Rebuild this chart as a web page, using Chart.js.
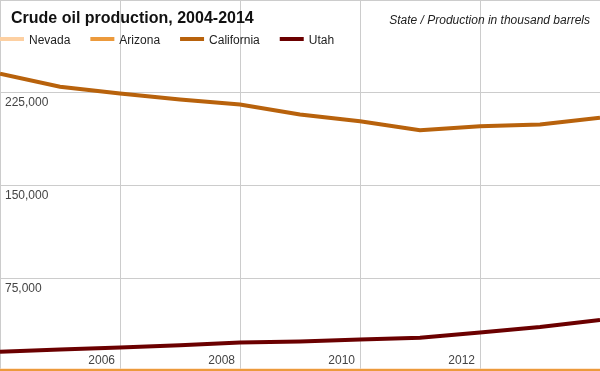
<!DOCTYPE html>
<html>
<head>
<meta charset="utf-8">
<script src="https://cdn.jsdelivr.net/npm/chart.js@4/dist/chart.umd.min.js"></script>
<style>
html,body{margin:0;padding:0;background:#fff;}
#wrap{width:600px;height:371px;}
</style>
</head>
<body>
<div id="wrap"><canvas id="c" width="600" height="371"></canvas></div>
<script>
const years = [2004,2005,2006,2007,2008,2009,2010,2011,2012,2013,2014];
const nevada = [420,400,380,410,420,430,440,420,360,330,320];
const arizona = [60,50,45,40,40,45,50,40,30,25,20];
const california = [240400,229900,224400,219600,215500,207400,202000,194700,197900,199300,204700];
const utah = [15500,17300,19050,20900,23100,23800,25500,26800,31200,35500,41200];
const seriesNames = ['Nevada','Arizona','California','Utah'];
const seriesColors = ['#fdd0a2','#ec9a3c','#b8620c','#6b0000'];
const xTickLabels = [2006,2008,2010,2012];
const yTickLabels = [75000,150000,225000];
const titleText = 'Crude oil production, 2004-2014';
const subtitleText = 'State / Production in thousand barrels';

const seriesData = [nevada, arizona, california, utah];

const overlay = {
  id: 'overlay',
  afterDraw(chart) {
    const ctx = chart.ctx;
    const xs = chart.scales.x, ys = chart.scales.y;
    ctx.save();
    // y tick labels
    ctx.font = '12px "Liberation Sans", Arial, sans-serif';
    ctx.fillStyle = '#444';
    ctx.textAlign = 'left';
    ctx.textBaseline = 'alphabetic';
    yTickLabels.forEach(v => {
      const y = ys.getPixelForValue(v);
      ctx.fillText(v.toLocaleString('en-US'), 5, y + 13.5);
    });
    // x tick labels
    ctx.textAlign = 'right';
    xTickLabels.forEach(v => {
      const x = xs.getPixelForValue(v);
      ctx.fillText(String(v), x - 5, chart.chartArea.bottom - 7);
    });
    // title
    ctx.textAlign = 'left';
    ctx.fillStyle = '#111';
    ctx.font = 'bold 16px "Liberation Sans", Arial, sans-serif';
    ctx.fillText(titleText, 11, 23);
    // subtitle
    ctx.textAlign = 'right';
    ctx.fillStyle = '#222';
    ctx.font = 'italic 12px "Liberation Sans", Arial, sans-serif';
    ctx.fillText(subtitleText, 590, 23.5);
    // legend
    ctx.textAlign = 'left';
    ctx.font = '12px "Liberation Sans", Arial, sans-serif';
    let lx = 0;
    chart.data.datasets.forEach(ds => {
      ctx.fillStyle = ds.borderColor;
      ctx.fillRect(lx, 37, 24, 4);
      ctx.fillStyle = '#222';
      ctx.fillText(ds.label, lx + 29, 43.5);
      lx += 29 + ctx.measureText(ds.label).width + 20;
    });
    ctx.restore();
  }
};

new Chart(document.getElementById('c'), {
  type: 'line',
  data: {
    datasets: seriesNames.map((name, i) => ({
      label: name,
      data: years.map((y, j) => ({x: y, y: seriesData[i][j]})),
      borderColor: seriesColors[i],
      backgroundColor: seriesColors[i],
      borderWidth: 4,
      pointRadius: 0,
      tension: 0,
      fill: false,
      order: i === 0 ? 1 : 0
    }))
  },
  options: {
    responsive: false,
    animation: false,
    layout: {padding: 0},
    plugins: {legend: {display: false}, title: {display: false}, tooltip: {enabled: false}},
    scales: {
      x: {
        type: 'linear', min: 2004, max: 2014,
        ticks: {display: false, stepSize: 2},
        grid: {color: '#cccccc', drawTicks: false, lineWidth: 1},
        border: {display: false},
        afterFit(s) { s.height = 0; }
      },
      y: {
        min: 0, max: 300000,
        ticks: {display: false, stepSize: 75000},
        grid: {color: '#cccccc', drawTicks: false, lineWidth: 1},
        border: {display: false},
        afterFit(s) { s.width = 0; }
      }
    }
  },
  plugins: [overlay]
});
</script>
</body>
</html>
